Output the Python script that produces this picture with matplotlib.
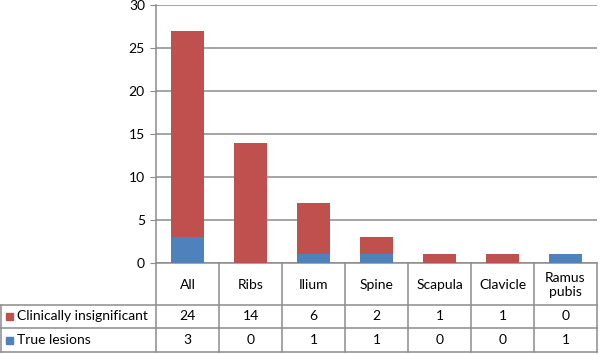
import numpy as np
import matplotlib.pyplot as plt
from matplotlib.transforms import blended_transform_factory
from matplotlib.patches import Rectangle

plt.rcParams['font.family'] = ['Lato', 'DejaVu Sans']

categories = ['All', 'Ribs', 'Ilium', 'Spine', 'Scapula', 'Clavicle', 'Ramus\npubis']
true_lesions = [3, 0, 1, 1, 0, 0, 1]
insignificant = [24, 14, 6, 2, 1, 1, 0]
series_names = ['Clinically insignificant', 'True lesions']
red = '#C0504D'
blue = '#4F81BD'
grid_col = '#8C8C8C'

W, H = 602, 354
fig = plt.figure(figsize=(W / 100, H / 100), dpi=100)

def fy(py):
    # pixel row (from top) -> figure fraction
    return 1 - py / H

ax_left, ax_right, ax_top, ax_bottom = 156, 597, 5, 263
ax = fig.add_axes([ax_left / W, fy(ax_bottom), (ax_right - ax_left) / W, (ax_bottom - ax_top) / H])

x = np.arange(len(categories))
ax.bar(x, true_lesions, width=0.52, color=blue, zorder=3)
ax.bar(x, insignificant, width=0.52, bottom=true_lesions, color=red, zorder=3)

ax.set_xlim(-0.5, len(categories) - 0.5)
ax.set_ylim(0, 30)
ax.set_yticks(range(0, 31, 5))
ax.yaxis.grid(True, color=grid_col, linewidth=1.1)
ax.set_axisbelow(True)
ax.set_xticks([])
ax.tick_params(axis='y', length=4, color=grid_col, labelsize=10, pad=4)
for s in ['top', 'right']:
    ax.spines[s].set_visible(False)
for s in ['left', 'bottom']:
    ax.spines[s].set_color(grid_col)
    ax.spines[s].set_linewidth(1.1)

# data table under the chart
tr = blended_transform_factory(ax.transData, fig.transFigure)
row_lines = [263, 305, 328, 352]
edges = np.arange(len(categories) + 1) - 0.5
for e in edges:
    ax.plot([e, e], [fy(263), fy(352)], transform=tr, color=grid_col, lw=1.1, clip_on=False)
for py in row_lines[1:]:
    fig.add_artist(plt.Line2D([1 / W, ax_right / W], [fy(py), fy(py)], color=grid_col, lw=1.1))
fig.add_artist(plt.Line2D([1 / W, 1 / W], [fy(305), fy(352)], color=grid_col, lw=1.1))

for i, c in enumerate(categories):
    ax.text(i, fy(285), c, transform=tr, ha='center', va='center', fontsize=10, linespacing=1.3)
    ax.text(i, fy(316.5), str(insignificant[i]), transform=tr, ha='center', va='center', fontsize=10)
    ax.text(i, fy(340), str(true_lesions[i]), transform=tr, ha='center', va='center', fontsize=10)

for name, col, py in zip(series_names, [red, blue], [316.5, 340]):
    fig.add_artist(Rectangle((6 / W, fy(py + 3.5)), 7 / W, 7 / H, color=col, transform=fig.transFigure))
    fig.text(17 / W, fy(py), name, ha='left', va='center', fontsize=10)

fig.savefig('out.png', dpi=100)
